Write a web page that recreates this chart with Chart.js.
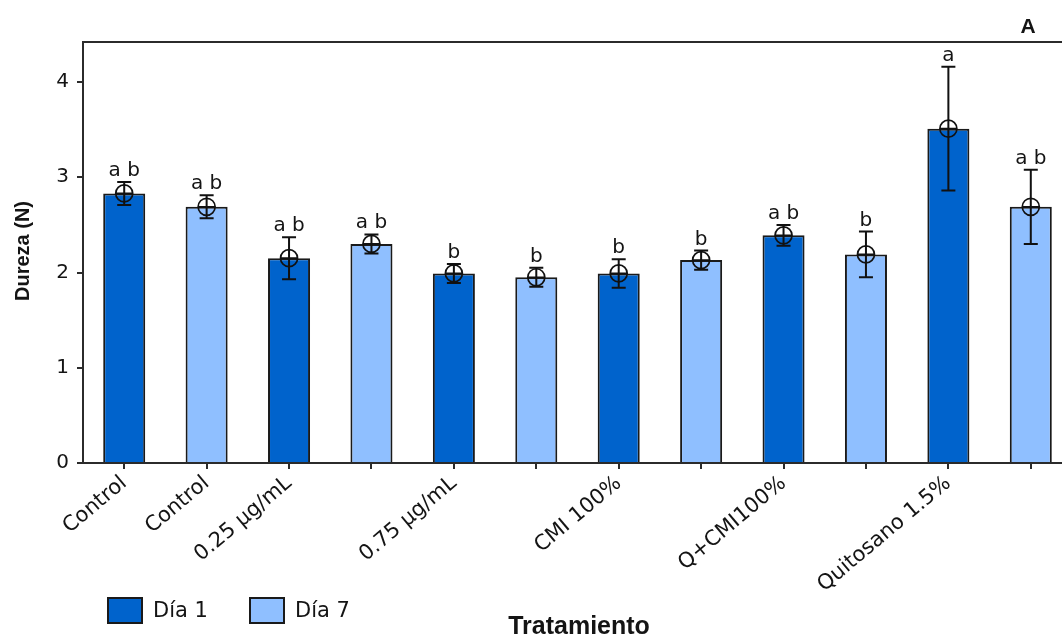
<!DOCTYPE html>
<html>
<head>
<meta charset="utf-8">
<script src="https://cdn.jsdelivr.net/npm/chart.js@4.4.1/dist/chart.umd.min.js"></script>
<style>
  html, body { margin: 0; padding: 0; overflow: hidden; background: #fff; }
  canvas { display: block; }
</style>
</head>
<body>
<canvas id="grafico" width="1072" height="637"></canvas>
<script>
// Tratamientos y dureza (N) medida en los días 1 y 7
const tratamientos = ["Control", "0.25 µg/mL", "0.75 µg/mL", "CMI 100%", "Q+CMI100%", "Quitosano 1.5%"];
const etiquetasEje = ["Control", "Control", "0.25 µg/mL", "", "0.75 µg/mL", "", "CMI 100%", "", "Q+CMI100%", "", "Quitosano 1.5%", ""];
const dia1 = [2.83, 2.15, 1.99, 1.99, 2.39, 3.51];
const dia7 = [2.69, 2.30, 1.95, 2.13, 2.19, 2.69];
const errDia1 = [0.12, 0.22, 0.10, 0.15, 0.11, 0.65];
const errDia7 = [0.12, 0.10, 0.10, 0.10, 0.24, 0.39];
const letrasDia1 = ["a b", "a b", "b", "b", "a b", "a"];
const letrasDia7 = ["a b", "a b", "b", "b", "b", "a b"];
const yTicks = [0, 1, 2, 3, 4];

// Cada tratamiento ocupa dos posiciones consecutivas: día 1 y día 7
function intercalar(valores, posicion) {
  const out = new Array(tratamientos.length * 2).fill(null);
  valores.forEach((v, i) => { out[2 * i + posicion] = v; });
  return out;
}

const COLOR_D1 = "#0063CC";
const COLOR_D7 = "#8FBFFF";
const TEXTO = "#141414";
const EJE = "#2b2b2b";

const marcas = {
  id: "marcas",
  afterDatasetsDraw(chart) {
    const { ctx, scales: { x, y } } = chart;
    chart.data.datasets.forEach(ds => {
      ds.data.forEach((v, i) => {
        if (v == null) return;
        const e = ds.errores[i];
        const px = x.getPixelForValue(i);
        const py = y.getPixelForValue(v);
        const sup = y.getPixelForValue(v + e);
        const inf = y.getPixelForValue(v - e);
        ctx.save();
        ctx.strokeStyle = "#111";
        ctx.lineWidth = 2;
        ctx.beginPath();
        ctx.moveTo(px, sup); ctx.lineTo(px, inf);
        ctx.moveTo(px - 7, sup); ctx.lineTo(px + 7, sup);
        ctx.moveTo(px - 7, inf); ctx.lineTo(px + 7, inf);
        ctx.stroke();
        ctx.lineWidth = 1.7;
        ctx.beginPath();
        ctx.arc(px, py, 8.5, 0, Math.PI * 2);
        ctx.moveTo(px - 8.5, py); ctx.lineTo(px + 8.5, py);
        ctx.stroke();
        ctx.fillStyle = TEXTO;
        ctx.font = '20px "DejaVu Sans"';
        ctx.textAlign = "center";
        ctx.textBaseline = "alphabetic";
        ctx.fillText(ds.letras[i], px, sup - 6);
        ctx.restore();
      });
    });
  },
  afterDraw(chart) {
    const { ctx, chartArea: a } = chart;
    ctx.save();
    // marco superior del área de trazado
    ctx.strokeStyle = EJE;
    ctx.lineWidth = 2;
    ctx.beginPath();
    ctx.moveTo(a.left, a.top); ctx.lineTo(a.right, a.top);
    ctx.stroke();

    // rótulo del panel
    ctx.fillStyle = TEXTO;
    ctx.font = 'bold 21px "Liberation Sans"';
    ctx.textAlign = "center";
    ctx.textBaseline = "alphabetic";
    ctx.fillText("A", 1028, 33);

    // título del eje X
    ctx.font = 'bold 25px "Liberation Sans"';
    ctx.fillText("Tratamiento", 579, 634);

    // título del eje Y
    ctx.save();
    ctx.translate(23, 251);
    ctx.rotate(-Math.PI / 2);
    ctx.font = 'bold 20px "Liberation Sans"';
    ctx.textBaseline = "middle";
    ctx.fillText("Dureza (N)", 0, 0);
    ctx.restore();

    // leyenda
    const posX = [108, 250];
    chart.data.datasets.forEach((ds, k) => {
      const bx = posX[k];
      ctx.fillStyle = ds.backgroundColor;
      ctx.fillRect(bx, 598, 34, 25);
      ctx.strokeStyle = "#1a1a1a";
      ctx.lineWidth = 2;
      ctx.strokeRect(bx, 598, 34, 25);
      ctx.fillStyle = TEXTO;
      ctx.font = '21px "DejaVu Sans"';
      ctx.textAlign = "left";
      ctx.fillText(ds.label, bx + 45, 617);
    });
    ctx.restore();
  }
};

new Chart(document.getElementById("grafico"), {
  type: "bar",
  data: {
    labels: etiquetasEje,
    datasets: [
      { label: "Día 1", data: intercalar(dia1, 0), errores: intercalar(errDia1, 0), letras: intercalar(letrasDia1, 0), backgroundColor: COLOR_D1 },
      { label: "Día 7", data: intercalar(dia7, 1), errores: intercalar(errDia7, 1), letras: intercalar(letrasDia7, 1), backgroundColor: COLOR_D7 }
    ]
  },
  options: {
    responsive: false,
    animation: false,
    devicePixelRatio: 1,
    layout: { padding: { top: 42, left: 0, right: 0, bottom: 0 } },
    plugins: { legend: { display: false }, tooltip: { enabled: false } },
    datasets: {
      bar: { grouped: false, categoryPercentage: 1, barPercentage: 0.51, borderWidth: 2, borderColor: "#1a1a1a" }
    },
    scales: {
      x: {
        offset: true,
        grid: { display: true, drawOnChartArea: false, offset: false, tickLength: 6, color: EJE, lineWidth: 2 },
        border: { display: true, color: EJE, width: 2 },
        ticks: { autoSkip: false, minRotation: 40, maxRotation: 40, padding: 2, color: TEXTO, font: { family: "DejaVu Sans", size: 21 } },
        afterFit(s) { s.height = 174; }
      },
      y: {
        min: 0,
        max: 4.42,
        afterBuildTicks(s) { s.ticks = yTicks.map(v => ({ value: v })); },
        grid: { drawOnChartArea: false, tickLength: 6, color: EJE, lineWidth: 2 },
        border: { display: true, color: EJE, width: 2 },
        ticks: { padding: 8, color: TEXTO, font: { family: "DejaVu Sans", size: 20 } },
        afterFit(s) { s.width = 83; }
      }
    }
  },
  plugins: [marcas]
});
</script>
</body>
</html>
